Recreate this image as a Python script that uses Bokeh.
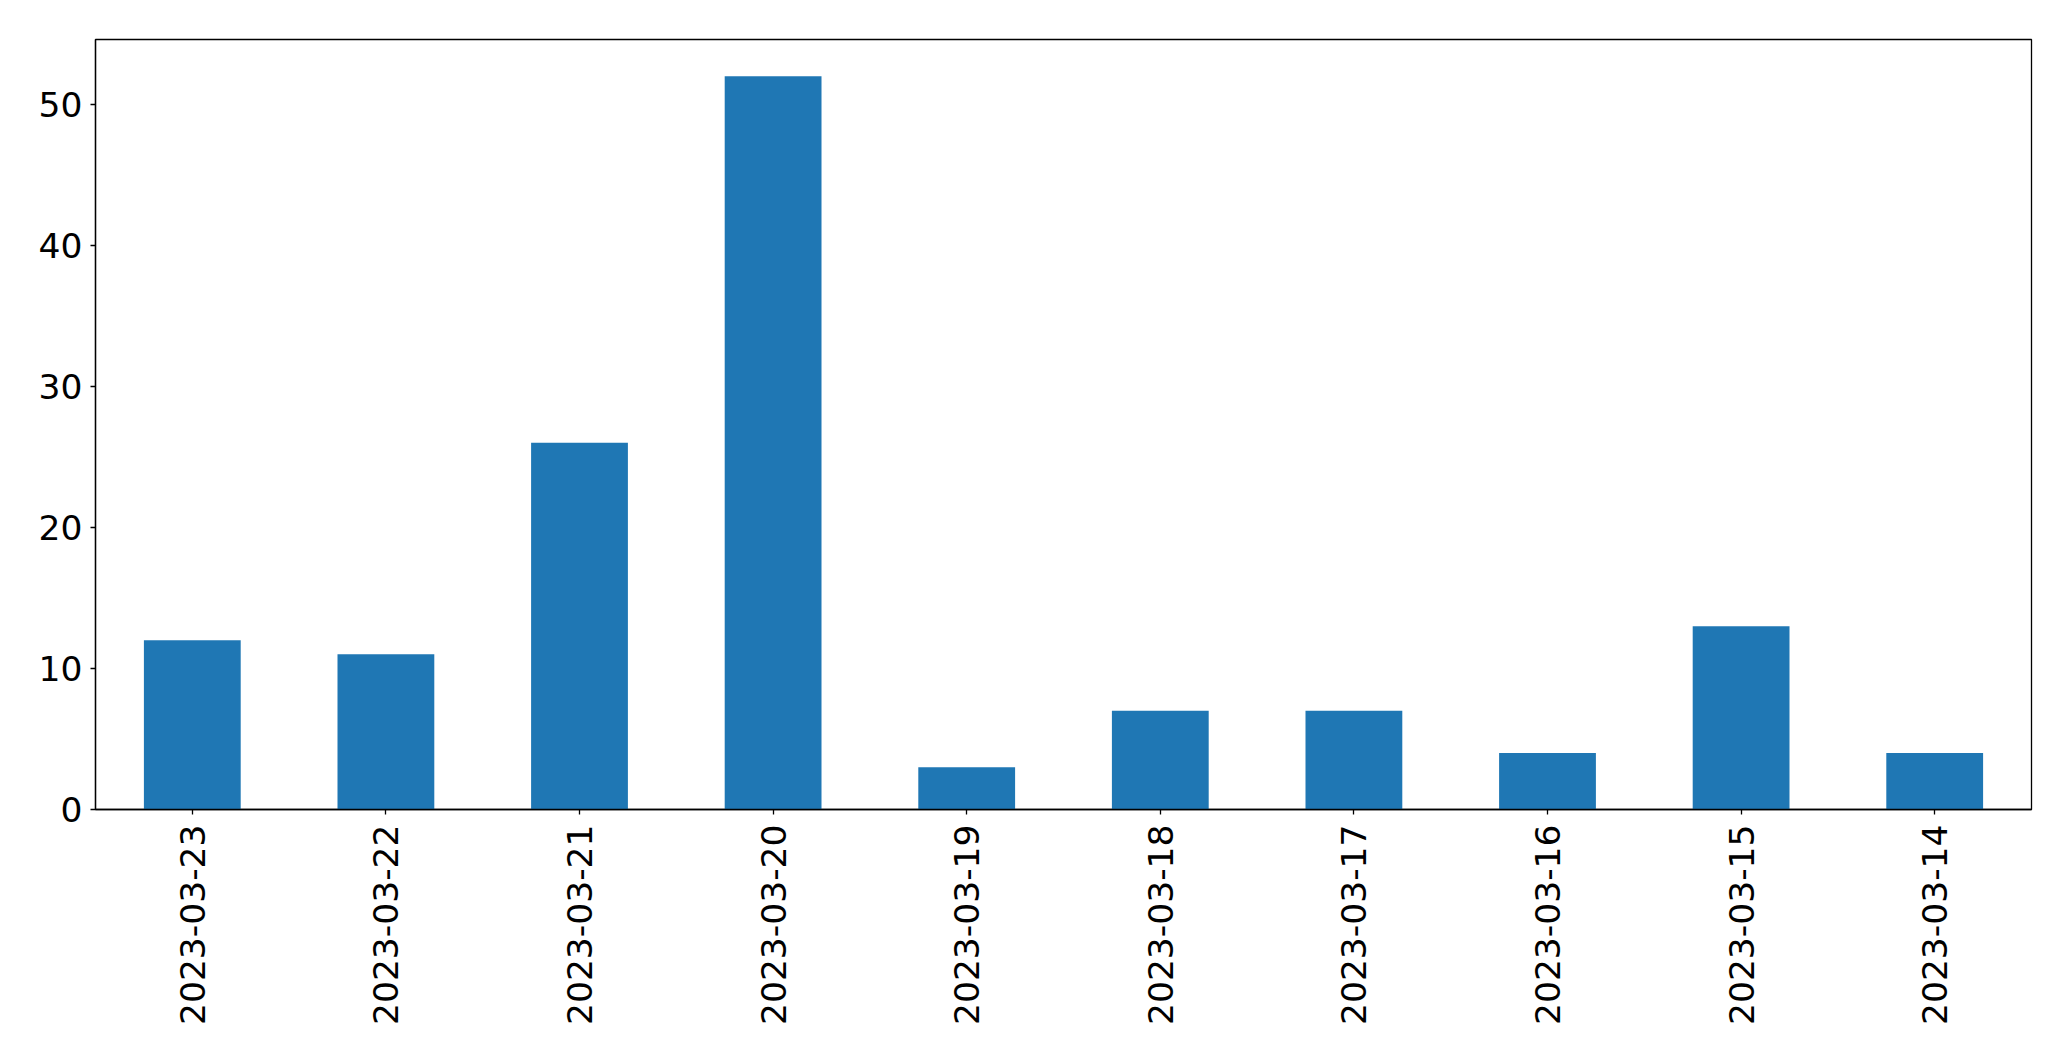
import math
from bokeh.plotting import figure
from bokeh.models import Range1d, FixedTicker, ColumnDataSource
from bokeh.embed import file_html
from bokeh.resources import INLINE

dates = ["2023-03-23", "2023-03-22", "2023-03-21", "2023-03-20", "2023-03-19",
         "2023-03-18", "2023-03-17", "2023-03-16", "2023-03-15", "2023-03-14"]
counts = [12, 11, 26, 52, 3, 7, 7, 4, 13, 4]
y_ticks = [0, 10, 20, 30, 40, 50]

positions = list(range(len(dates)))
src = ColumnDataSource(data=dict(x=positions, top=counts))

W, H = 2063, 1053
p = figure(width=W, height=H, output_backend="svg", toolbar_location=None,
           x_range=Range1d(-0.5, len(dates) - 0.5), y_range=Range1d(0, max(counts) * 1.05))
p.min_border_left = 95
p.min_border_right = W - 2031
p.min_border_top = 39
p.min_border_bottom = H - 809

p.vbar(x="x", top="top", width=0.5, bottom=0, source=src, color="#1f77b4", line_color=None)

p.xgrid.visible = False
p.ygrid.visible = False
p.outline_line_color = "black"
p.outline_line_width = 1.3
p.outline_line_alpha = 1

p.xaxis.ticker = FixedTicker(ticks=positions)
p.xaxis.major_label_overrides = {i: d for i, d in enumerate(dates)}
p.xaxis.major_label_orientation = math.pi / 2
p.yaxis.ticker = FixedTicker(ticks=y_ticks)

for ax in (p.xaxis[0], p.yaxis[0]):
    ax.axis_line_color = "black"
    ax.axis_line_width = 1.3
    ax.major_tick_line_color = "black"
    ax.major_tick_line_width = 1.3
    ax.major_tick_out = 5
    ax.major_tick_in = 0
    ax.minor_tick_line_color = None
    ax.major_label_text_font = "DejaVu Sans"
    ax.major_label_text_font_size = "34.5px"
    ax.major_label_text_color = "black"
p.xaxis.major_label_standoff = 10
p.yaxis.major_label_standoff = 8

open("out.html", "w").write(file_html(p, INLINE))
